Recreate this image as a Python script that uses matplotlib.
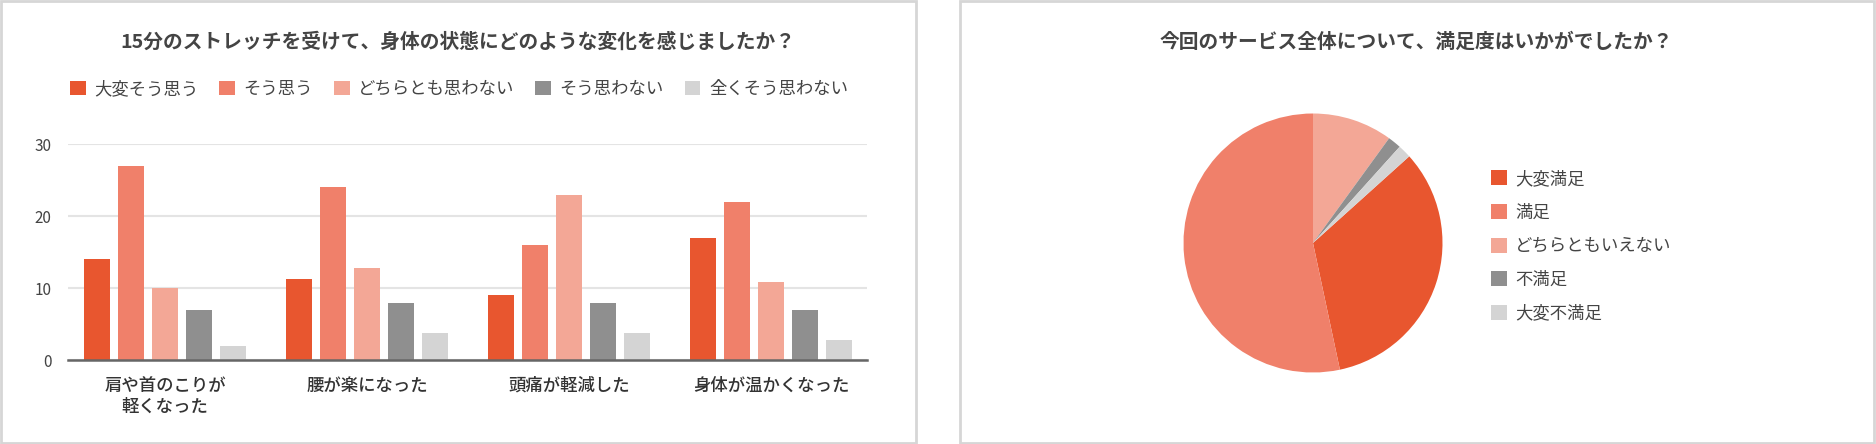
import matplotlib
matplotlib.use("Agg")
import matplotlib.pyplot as plt
from matplotlib.patches import Rectangle, Patch
import numpy as np

plt.rcParams['font.family'] = ['Noto Sans CJK JP', 'DejaVu Sans']

# ---- data ----
bar_title = "15分のストレッチを受けて、身体の状態にどのような変化を感じましたか？"
categories = ["肩や首のこりが\n軽くなった", "腰が楽になった", "頭痛が軽減した", "身体が温かくなった"]
series_names = ["大変そう思う", "そう思う", "どちらとも思わない", "そう思わない", "全くそう思わない"]
s_very = [14, 11.2, 9, 17]
s_yes = [27, 24, 16, 22]
s_neutral = [10, 12.8, 23, 10.9]
s_no = [7, 7.9, 7.9, 7]
s_never = [2, 3.7, 3.7, 2.8]
y_ticks = [0, 10, 20, 30]

pie_title = "今回のサービス全体について、満足度はいかがでしたか？"
pie_labels = ["大変満足", "満足", "どちらともいえない", "不満足", "大変不満足"]
pie_values = [20, 32, 6, 1, 1]

colors = ["#E8562F", "#F0806A", "#F3A796", "#8F8F8F", "#D4D4D4"]

W, H = 1876, 444
fig = plt.figure(figsize=(W / 100, H / 100), dpi=100)
fig.patch.set_facecolor("white")

def fx(px):
    return px / W

def fy(py):
    return 1 - py / H

# panel borders
for x0, x1 in [(1, 916), (960, 1874)]:
    fig.patches.append(Rectangle((fx(x0), fy(443)), fx(x1 - x0), (443 - 1) / H,
                                 transform=fig.transFigure, facecolor="none",
                                 edgecolor="#D6D6D6", linewidth=2, zorder=-10))

# ---- bar chart ----
ax = fig.add_axes([fx(68), fy(360), fx(867 - 68), (360 - 144.3) / H])
ax.patch.set_alpha(0)
series = [s_very, s_yes, s_neutral, s_no, s_never]
x = np.arange(len(categories))
bw = 0.129
pitch = 0.168
for i, (vals, name, c) in enumerate(zip(series, series_names, colors)):
    ax.bar(x + (i - 2) * pitch, vals, width=bw, color=c, label=name, zorder=3)
ax.set_ylim(0, 30)
ax.set_xlim(-0.48, 3.475)
ax.set_yticks(y_ticks)
ax.set_xticks(x)
ax.set_xticklabels(categories, fontsize=12.5, color="#333333", fontweight="medium",
                   linespacing=1.2)
ax.tick_params(axis="both", length=0)
ax.tick_params(axis="y", pad=12, labelsize=11, labelcolor="#444444")
ax.tick_params(axis="x", pad=12)
for s in ["top", "right", "left"]:
    ax.spines[s].set_visible(False)
ax.spines["bottom"].set_color("#666666")
ax.spines["bottom"].set_linewidth(1.8)
ax.spines["bottom"].set_zorder(4)
ax.yaxis.grid(True, color="#E4E4E4", linewidth=1.5, zorder=0)
ax.set_axisbelow(True)

fig.text(fx(458), fy(42), bar_title, ha="center", va="center", fontsize=14.2,
         fontweight="bold", color="#444444")

leg_handles = [Patch(facecolor=c, edgecolor="none") for c in colors]
fig.legend(leg_handles, series_names, loc="center", bbox_to_anchor=(fx(459), fy(89)),
           ncol=5, frameon=False, fontsize=12.5, handlelength=0.9, handleheight=0.9,
           handletextpad=0.5, columnspacing=1.2, labelcolor="#444444")

# ---- pie chart ----
cx, cy, r = 1313, 243, 129.5
pax = fig.add_axes([fx(cx - r), fy(cy + r), fx(2 * r), 2 * r / H])
pax.pie(pie_values, colors=colors, startangle=90 - 48, counterclock=False,
        wedgeprops=dict(linewidth=0))
pax.set_xlim(-1, 1)
pax.set_ylim(-1, 1)
pax.set_aspect("equal")
pax.axis("off")

fig.text(fx(1416), fy(42), pie_title, ha="center", va="center", fontsize=14.2,
         fontweight="bold", color="#444444")

pie_handles = [Patch(facecolor=c, edgecolor="none") for c in colors]
fig.legend(pie_handles, pie_labels, loc="center left", bbox_to_anchor=(fx(1475), fy(246)),
           frameon=False, fontsize=12.5, handlelength=0.95, handleheight=0.95,
           handletextpad=0.45, labelspacing=0.9, labelcolor="#444444")

fig.savefig("out.png", dpi=100, facecolor="white")
